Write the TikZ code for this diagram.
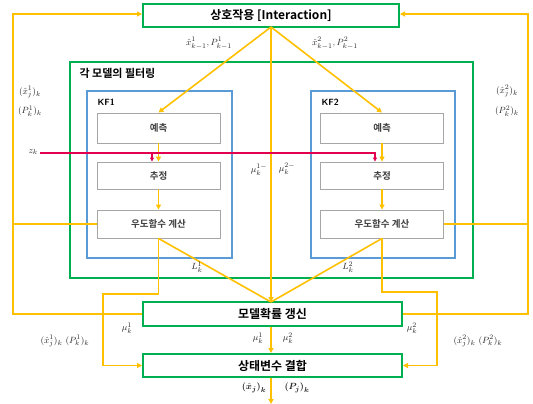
\documentclass[tikz,border=0pt]{standalone}
\usepackage{amsmath,bm}
\usepackage{fontspec}
\newfontfamily\kr{Noto Sans CJK KR}[BoldFont={Noto Sans CJK KR Bold}]
\usetikzlibrary{arrows.meta,calc}
\definecolor{ylw}{HTML}{FFC000}
\definecolor{grn}{HTML}{00B050}
\definecolor{blu}{HTML}{5B9BD5}
\definecolor{gry}{HTML}{A6A6A6}
\definecolor{rd}{HTML}{E2004F}
\begin{document}
\begin{tikzpicture}[x=1pt,y=-1pt,
  bigbox/.style={draw=grn,line width=2pt,fill=white,inner sep=0pt,font=\kr\bfseries\fontsize{12}{12}\selectfont},
  kfbox/.style={draw=blu,line width=1.5pt},
  stepbox/.style={draw=gry,line width=0.9pt,fill=white,minimum width=123pt,inner sep=0pt,font=\kr\bfseries\fontsize{9.5}{10}\selectfont,text=black!75},
  flow/.style={draw=ylw,line width=1.6pt},
  flowa/.style={flow,-{Triangle[length=5pt,width=5pt]}},
  redl/.style={draw=rd,line width=1.2pt},
  lbl/.style={font=\fontsize{9.5}{10}\selectfont,inner sep=0pt,text=black!85}]
\useasboundingbox (0,0) rectangle (533,404);
% frames
\draw[grn,line width=2pt] (70,62) rectangle (473,278);
\node[anchor=west,font=\kr\bfseries\fontsize{11}{11}\selectfont] (ftitle) at (76,73) {각 모델의 필터링};
\draw[kfbox] (87,91) rectangle (232,258);
\draw[kfbox] (311,91) rectangle (455,258);
\node[anchor=west,font=\sffamily\bfseries\fontsize{9}{9}\selectfont] (kf1) at (94,102) {KF1};
\node[anchor=west,font=\sffamily\bfseries\fontsize{9}{9}\selectfont] (kf2) at (318,102) {KF2};
% main boxes
\node[bigbox,minimum width=256pt,minimum height=23pt] (inter) at (271,15.5) {상호작용 [Interaction]};
\node[bigbox,minimum width=259pt,minimum height=24pt] (mode) at (272.5,314) {모델확률 갱신};
\node[bigbox,minimum width=259pt,minimum height=23pt] (comb) at (272.5,365.5) {상태변수 결합};
% step boxes
\node[stepbox,minimum height=30pt] (p1) at (158.5,128) {예측};
\node[stepbox,minimum height=27pt] (e1) at (158.5,175.5) {추정};
\node[stepbox,minimum height=28pt] (l1) at (158.5,224) {우도함수 계산};
\node[stepbox,minimum height=30pt] (p2) at (382,128) {예측};
\node[stepbox,minimum height=27pt] (e2) at (382,175.5) {추정};
\node[stepbox,minimum height=28pt] (l2) at (382,224) {우도함수 계산};
% coordinates
\coordinate (L) at (13,14);
\coordinate (R) at (528,14);
\coordinate (mid) at (271,302);
\coordinate (top) at (271,27);
\coordinate (lt) at (103,294);
\coordinate (rt) at (437,292);
\coordinate (zs) at (40,153);
\coordinate (bot) at (271,404);
% yellow connectors
\draw[flowa] (top) -- (p1.north);
\draw[flowa] (top) -- (p2.north);
\draw[flowa] (top) -- (mid);
\draw[flowa] (p1) -- (e1);
\draw[flowa] (e1) -- (l1);
\draw[flowa] (p2) -- (e2);
\draw[flowa] (e2) -- (l2);
\draw[flowa] (mode.west) -| (L) -- (L -| inter.west);
\draw[flowa] (mode.east) -| (R) -- (R -| inter.east);
\draw[flow] (l1.west) -- (l1.west -| L);
\draw[flow] (l2.east) -- (l2.east -| R);
\draw[flow] (l1.south) -- (mid);
\draw[flow] (l2.south) -- (mid);
\draw[flowa] (l1.south) -- (l1.south |- lt) -- (lt) -- (lt |- comb.west) -- (comb.west);
\draw[flowa] (l2.south) -- (l2.south |- rt) -- (rt) -- (rt |- comb.east) -- (comb.east);
\draw[flowa] (mode.south -| mid) -- (comb.north -| mid);
\draw[flowa] (comb.south -| mid) -- (bot);
% red
\draw[redl,-{Triangle[length=4pt,width=4pt]}] (zs) -- (375,153) -- (e2.north -| 375,0);
\draw[redl,-{Triangle[length=4pt,width=4pt]}] (152,153) -- (e1.north -| 152,0);
\node[lbl,anchor=east] (zk) at (38,152) {$z_k$};
% labels
\node[lbl] (a1) at (209,43) {$\hat{x}^1_{k-1},P^1_{k-1}$};
\node[lbl] (a2) at (335,43) {$\hat{x}^2_{k-1},P^2_{k-1}$};
\node[lbl] (b1) at (30,92) {$(\hat{x}^1_j)_k$};
\node[lbl] (b2) at (30,111) {$(P^1_k)_k$};
\node[lbl] (c1) at (507,91) {$(\hat{x}^2_j)_k$};
\node[lbl] (c2) at (507,111) {$(P^2_k)_k$};
\node[lbl] (m1) at (259,170) {$\mu^{1-}_k$};
\node[lbl] (m2) at (287,169) {$\mu^{2-}_k$};
\node[lbl] (L1) at (197,267) {$L^1_k$};
\node[lbl] (L2) at (348,267) {$L^2_k$};
\node[lbl] (n1) at (127,328) {$\mu^1_k$};
\node[lbl] (n2) at (412,328) {$\mu^2_k$};
\node[lbl] (o1) at (258,338) {$\mu^1_k$};
\node[lbl] (o2) at (288,338) {$\mu^2_k$};
\node[lbl] (q1) at (65,341) {$(\hat{x}^1_j)_k\ (P^1_k)_k$};
\node[lbl] (q2) at (478,341) {$(\hat{x}^2_j)_k\ (P^2_k)_k$};
\node[lbl] (r1) at (254,388) {$\bm{(\hat{x}_j)_k}$};
\node[lbl] (r2) at (297,388) {$\bm{(P_j)_k}$};
\end{tikzpicture}
\end{document}
